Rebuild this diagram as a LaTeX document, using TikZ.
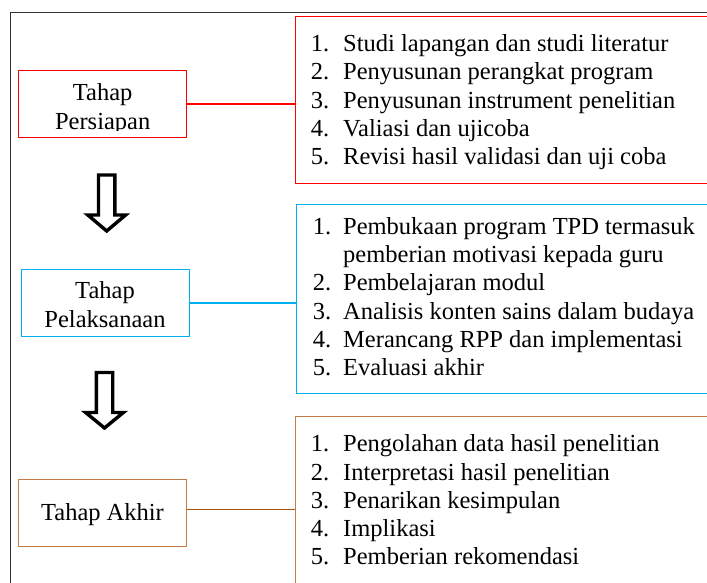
\documentclass[tikz,border=0pt]{standalone}
\usepackage{fontspec}
\setmainfont{Liberation Serif}
\usepackage{array}
\usetikzlibrary{positioning,calc}
\definecolor{tahapred}{HTML}{FF0000}
\definecolor{tahapblue}{HTML}{00B0F0}
\definecolor{tahapbrown}{HTML}{C47A45}
\definecolor{linkbrown}{HTML}{A8520F}

\begin{document}
\begin{tikzpicture}[x=1pt, y=-1pt,
        tahap/.style={rectangle, draw, line width=0.8pt, minimum width=168pt, minimum height=67pt},
        tahaptext/.style={align=center, inner sep=0pt, font=\fontsize{24.5}{29}\selectfont},
        kotak/.style={rectangle, draw, line width=0.9pt, anchor=north west, minimum width=430pt},
        daftar/.style={anchor=base west, inner sep=0pt, font=\fontsize{24.5}{28.3}\selectfont},
        hubung/.style={line width=1.4pt},
        panah/.style={draw=black, line width=3.4pt, line join=miter}]
    \useasboundingbox (0,0) rectangle (707,583);
    \clip (0,0) rectangle (707,583);
    \draw [line width=1.3pt, black!80] (10.7,600) |- (720,12.7);

    \node [tahap, draw=tahapred] (persiapan) at (102.7,104.2) {};
    \node [tahap, draw=tahapblue] (pelaksanaan) at (105,303) {};
    \node [tahap, draw=tahapbrown] (akhir) at (102.5,513) {};

    \begin{scope}
        \clip (persiapan.north west) rectangle ([yshift=7.4pt]persiapan.south east);
        \node [tahaptext] (teks1) at ([yshift=-4.6pt]persiapan.center) {Tahap\\Persiapan};
    \end{scope}
    \node [tahaptext] (teks2) at ([yshift=-1.5pt]pelaksanaan.center) {Tahap\\Pelaksanaan};
    \node [tahaptext] (teks3) at ([yshift=-1.3pt]akhir.center) {Tahap Akhir};

    \node [kotak, draw=tahapred, minimum height=167pt] (list1) at (295,16) {};
    \node [kotak, draw=tahapblue, minimum height=189pt] (list2) at (296,204) {};
    \node [kotak, draw=tahapbrown, minimum height=200pt] (list3) at (295,416) {};

    \node [daftar] (isi1) at (310.7,51.7) {\begin{tabular}[t]{@{}p{32.3pt}@{}l@{}}
        1. & Studi lapangan dan studi literatur\\
        2. & Penyusunan perangkat program\\
        3. & Penyusunan instrument penelitian\\
        4. & Valiasi dan ujicoba\\
        5. & Revisi hasil validasi dan uji coba
    \end{tabular}};
    \node [daftar] (isi2) at (312.7,234.3) {\begin{tabular}[t]{@{}p{30.3pt}@{}l@{}}
        1. & Pembukaan program TPD termasuk\\
           & pemberian motivasi kepada guru\\
        2. & Pembelajaran modul\\
        3. & Analisis konten sains dalam budaya\\
        4. & Merancang RPP dan implementasi\\
        5. & Evaluasi akhir
    \end{tabular}};
    \node [daftar] (isi3) at (310.7,451.7) {\begin{tabular}[t]{@{}p{32.3pt}@{}l@{}}
        1. & Pengolahan data hasil penelitian\\
        2. & Interpretasi hasil penelitian\\
        3. & Penarikan kesimpulan\\
        4. & Implikasi\\
        5. & Pemberian rekomendasi
    \end{tabular}};

    \draw [hubung, tahapred] (persiapan.east) -- (persiapan.east -| list1.west);
    \draw [hubung, tahapblue] (pelaksanaan.east) -- (pelaksanaan.east -| list2.west);
    \draw [hubung, linkbrown] ([yshift=3.7pt]akhir.east) -- ([yshift=3.7pt]akhir.east -| list3.west);

    \draw [panah] (106.7,175) ++(-8.2,0) -- ++(16.4,0) -- ++(0,40) -- ++(10.7,0)
        -- ++(-18.9,16) -- ++(-18.9,-16) -- ++(10.7,0) -- cycle;
    \draw [panah] (104.5,372.5) ++(-8.2,0) -- ++(16.4,0) -- ++(0,40) -- ++(10.7,0)
        -- ++(-18.9,15.5) -- ++(-18.9,-15.5) -- ++(10.7,0) -- cycle;
\end{tikzpicture}
\end{document}
